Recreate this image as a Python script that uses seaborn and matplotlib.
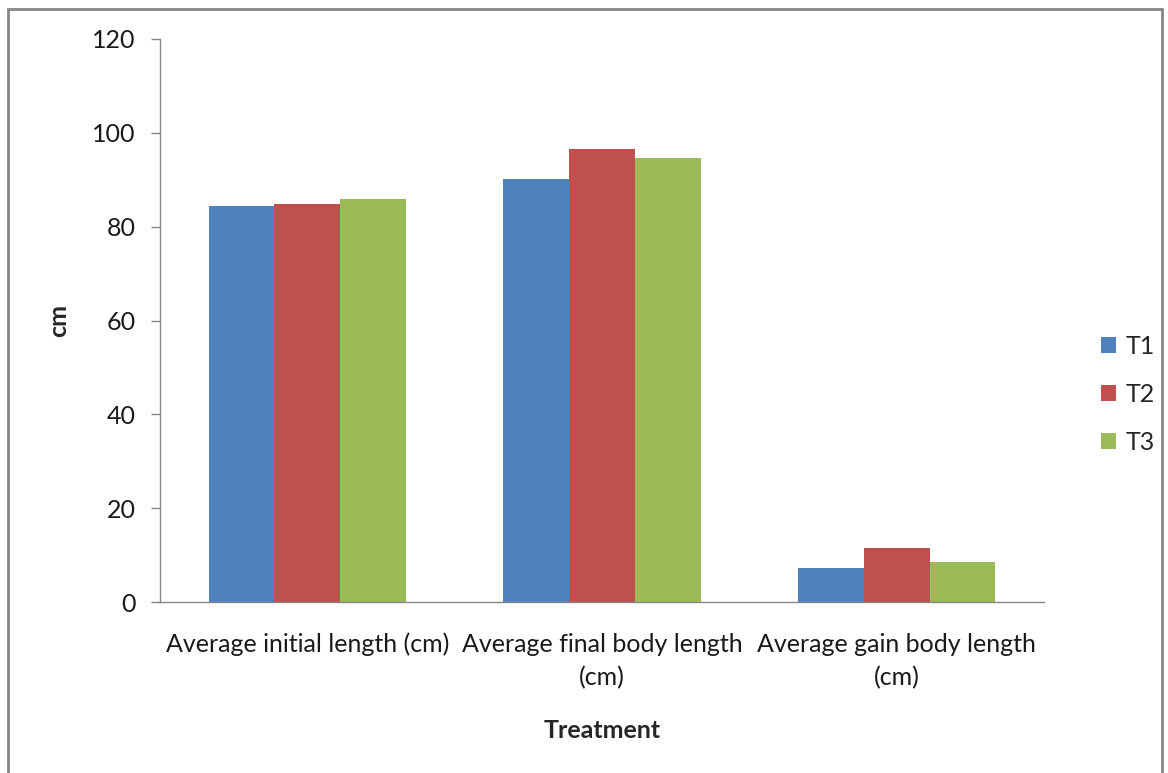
import matplotlib
matplotlib.use("Agg")
import matplotlib.pyplot as plt
import seaborn as sns
import pandas as pd
from matplotlib.patches import Rectangle

categories = ["Average initial length (cm)",
              "Average final body length\n(cm)",
              "Average gain body length\n(cm)"]
treatments = ["T1", "T2", "T3"]
t1_values = [84.3, 90.1, 7.3]
t2_values = [84.8, 96.5, 11.5]
t3_values = [85.9, 94.6, 8.5]
colors = ["#4F81BD", "#C0504D", "#9BBB59"]

rows = []
for t, vals in zip(treatments, [t1_values, t2_values, t3_values]):
    for c, v in zip(categories, vals):
        rows.append({"category": c, "treatment": t, "value": v})
df = pd.DataFrame(rows)

sns.set_style("white")
plt.rcParams["font.family"] = ["Lato", "DejaVu Sans"]

W, H = 1168, 773
FS = 18
fig = plt.figure(figsize=(W / 100, H / 100), dpi=100)
ax = fig.add_axes([160 / W, 1 - 602 / H, (1044 - 160) / W, (602 - 39) / H])

sns.barplot(data=df, x="category", y="value", hue="treatment",
            order=categories, hue_order=treatments, palette=colors,
            width=0.67, gap=0, saturation=1, linewidth=0, ax=ax, legend=True)

ax.set_ylim(0, 120)
ax.set_xlim(-0.5, 2.5)
ax.set_yticks([0, 20, 40, 60, 80, 100, 120])
spine_c = "#868686"
for s in ["top", "right"]:
    ax.spines[s].set_visible(False)
ax.spines["left"].set_color(spine_c)
ax.spines["bottom"].set_color(spine_c)
ax.spines["left"].set_linewidth(1.0)
ax.spines["bottom"].set_linewidth(1.0)
ax.tick_params(axis="y", direction="out", length=6.5, width=1.0, color=spine_c,
               labelsize=FS, pad=11, left=True, labelcolor="#1a1a1a")
ax.tick_params(axis="x", length=0, labelsize=FS, pad=22, labelcolor="#1a1a1a")
for lbl in ax.get_xticklabels():
    lbl.set_linespacing(1.55)
ax.set_xlabel("Treatment", fontsize=FS, fontweight="bold", labelpad=21)
ax.set_ylabel("cm", fontsize=FS, fontweight="bold", labelpad=16)

handles, labels = ax.get_legend_handles_labels()
ax.legend(handles, labels, loc="center left", bbox_to_anchor=(1078 / W, 1 - 394 / H),
          bbox_transform=fig.transFigure, frameon=False, fontsize=FS,
          handlelength=0.6, handleheight=0.6, handletextpad=0.4, labelspacing=1.0)

fig.patches.append(Rectangle((8 / W, -0.05), (1162 - 8) / W, 1.05 - 9 / H,
                             transform=fig.transFigure, fill=False,
                             edgecolor="#868686", linewidth=2.0))

fig.savefig("out.png", dpi=100)
